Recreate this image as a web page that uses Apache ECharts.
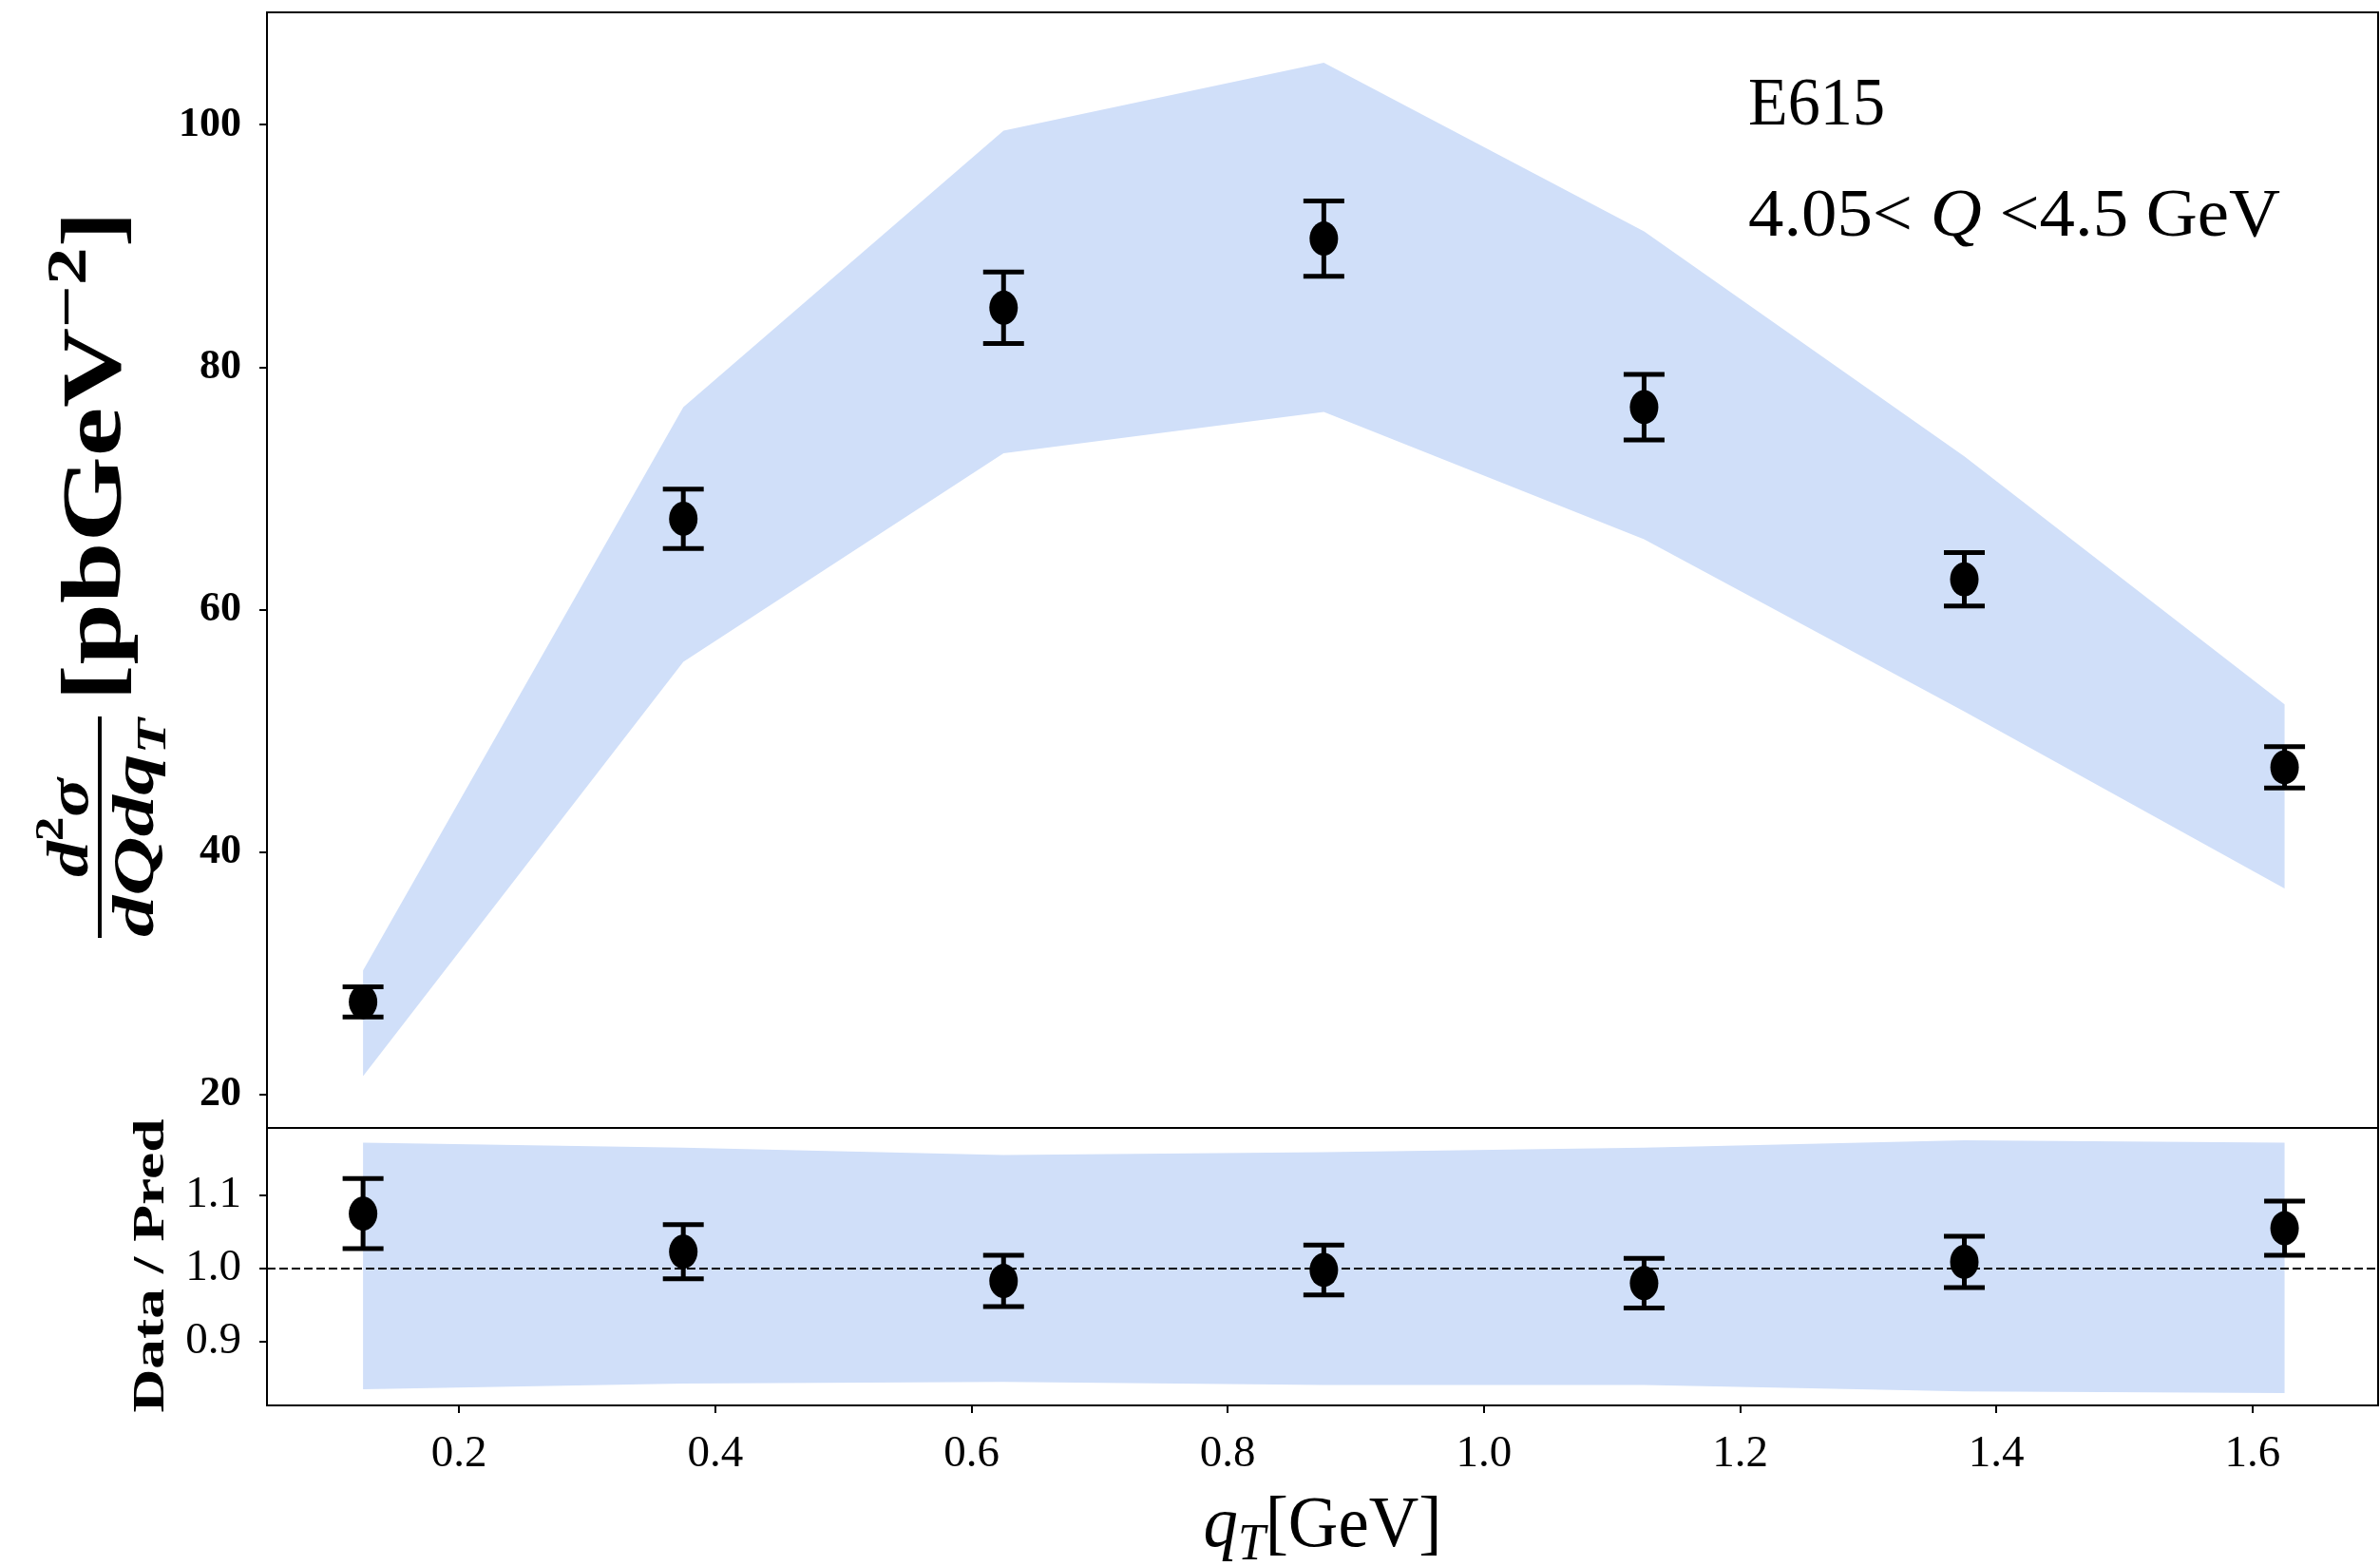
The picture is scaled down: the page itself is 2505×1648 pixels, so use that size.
<!DOCTYPE html>
<html>
<head>
<meta charset="utf-8">
<script src="https://cdn.jsdelivr.net/npm/echarts@6/dist/echarts.min.js"></script>
<style>
  html, body { margin: 0; padding: 0; background: #fff; }
  #chart { width: 2505px; height: 1648px; }
</style>
</head>
<body>
<div id="chart"></div>
<script>
// E615 Drell-Yan qT spectrum, 4.05 < Q < 4.5 GeV
const qT        = [0.125, 0.375, 0.625, 0.875, 1.125, 1.375, 1.625];
const xsec      = [27.65, 67.5, 84.9, 90.6, 76.7, 62.5, 47.0];
const xsecErr   = [1.25, 2.45, 2.95, 3.1, 2.7, 2.2, 1.7];
const predUpper = [30.25, 76.7, 99.5, 105.1, 91.2, 72.65, 52.2];
const predLower = [21.53, 55.7, 72.9, 76.3, 65.8, 51.6, 37.0];

// data / prediction
const ratio      = [1.075, 1.023, 0.983, 0.998, 0.980, 1.009, 1.055];
const ratioErr   = [0.048, 0.037, 0.035, 0.034, 0.034, 0.035, 0.037];
const ratioUpper = [1.172, 1.165, 1.155, 1.159, 1.165, 1.175, 1.172];
const ratioLower = [0.835, 0.843, 0.845, 0.841, 0.841, 0.832, 0.830];

// tick positions
const xTicks      = [0.2, 0.4, 0.6, 0.8, 1.0, 1.2, 1.4, 1.6];
const yTicksTop   = [20, 40, 60, 80, 100];
const yTicksRatio = [0.9, 1.0, 1.1];

const BAND = 'rgb(208,223,249)';
const SERIF = 'Liberation Serif';
const X_MIN = 0.05, X_MAX = 1.698;

// ---- text layout helpers (runs of differently styled text on a common baseline)
const meas = document.createElement('canvas').getContext('2d');
function cssFont(r) {
  return [r.italic ? 'italic' : 'normal', r.bold ? 'bold' : 'normal', r.size + 'px', SERIF].join(' ');
}
function textRun(runs, opts) {
  let x = 0;
  const kids = [];
  runs.forEach(r => {
    meas.font = cssFont(r);
    meas.textBaseline = 'middle';
    const w = meas.measureText(r.text).width;
    const off = meas.measureText('H').actualBoundingBoxDescent;
    kids.push({
      type: 'text', x: x, y: -(r.rise || 0) - off, silent: true,
      style: {
        text: r.text, fill: '#000',
        fontSize: r.size, fontFamily: SERIF,
        fontWeight: r.bold ? 'bold' : 'normal',
        fontStyle: r.italic ? 'italic' : 'normal',
        align: 'left', verticalAlign: 'middle',
        textAlign: 'left', textVerticalAlign: 'middle'
      }
    });
    x += w;
  });
  const s = opts.width ? opts.width / x : 1;
  const gx = opts.align === 'center' ? opts.x - x * s / 2 : opts.x;
  return { type: 'group', x: gx, y: opts.y, scaleX: s, children: kids };
}

// ---- series renderers
function bandRenderer(xs, lo, hi) {
  return function (params, api) {
    if (params.dataIndex !== 0) return null;
    const pts = [];
    for (let i = 0; i < xs.length; i++) pts.push(api.coord([xs[i], hi[i]]));
    for (let i = xs.length - 1; i >= 0; i--) pts.push(api.coord([xs[i], lo[i]]));
    return { type: 'polygon', shape: { points: pts }, style: { fill: BAND }, silent: true };
  };
}
function errorRenderer(params, api) {
  const x = api.value(0), y = api.value(1), e = api.value(2);
  const c = api.coord([x, y]);
  const top = api.coord([x, y + e]);
  const bot = api.coord([x, y - e]);
  const cap = 21.5;
  const ls = { stroke: '#000', lineWidth: 5 };
  return {
    type: 'group',
    children: [
      { type: 'line', shape: { x1: c[0], y1: top[1], x2: c[0], y2: bot[1] }, style: ls },
      { type: 'line', shape: { x1: c[0] - cap, y1: top[1], x2: c[0] + cap, y2: top[1] }, style: ls },
      { type: 'line', shape: { x1: c[0] - cap, y1: bot[1], x2: c[0] + cap, y2: bot[1] }, style: ls },
      { type: 'circle', x: c[0], y: c[1], scaleY: 1.2, shape: { cx: 0, cy: 0, r: 15 }, style: { fill: '#000' } }
    ]
  };
}

const tickLabel = { fontFamily: SERIF, color: '#000', fontSize: 47 };

const option = {
  animation: false,
  backgroundColor: '#fff',
  grid: [
    { left: 281, top: 13, width: 2222, height: 1174, show: true, borderColor: '#000', borderWidth: 2, backgroundColor: 'transparent' },
    { left: 281, top: 1187, width: 2222, height: 292, show: true, borderColor: '#000', borderWidth: 2, backgroundColor: 'transparent' }
  ],
  xAxis: [
    {
      type: 'value', gridIndex: 0, min: X_MIN, max: X_MAX,
      axisLine: { show: false, onZero: false }, axisTick: { show: false },
      axisLabel: { show: false }, splitLine: { show: false }
    },
    {
      type: 'value', gridIndex: 1, min: X_MIN, max: X_MAX,
      axisLine: { show: false, onZero: false },
      axisTick: { show: true, inside: false, length: 8, lineStyle: { color: '#000', width: 2 }, customValues: xTicks },
      axisLabel: Object.assign({ show: true, customValues: xTicks, margin: 28, formatter: v => v.toFixed(1) }, tickLabel),
      splitLine: { show: false }
    }
  ],
  yAxis: [
    {
      type: 'value', gridIndex: 0, min: 17.26, max: 109.26,
      axisLine: { show: false, onZero: false },
      axisTick: { show: true, inside: false, length: 8, lineStyle: { color: '#000', width: 2 }, customValues: yTicksTop },
      axisLabel: Object.assign({}, tickLabel, { show: true, customValues: yTicksTop, margin: 27, fontSize: 44, fontWeight: 'bold', formatter: v => String(Math.round(v)) }),
      splitLine: { show: false }
    },
    {
      type: 'value', gridIndex: 1, min: 0.813, max: 1.192,
      axisLine: { show: false, onZero: false },
      axisTick: { show: true, inside: false, length: 8, lineStyle: { color: '#000', width: 2 }, customValues: yTicksRatio },
      axisLabel: Object.assign({ show: true, customValues: yTicksRatio, margin: 27, formatter: v => v.toFixed(1) }, tickLabel),
      splitLine: { show: false }
    }
  ],
  series: [
    {
      type: 'custom', name: 'prediction', xAxisIndex: 0, yAxisIndex: 0, z: 1,
      data: qT.map((x, i) => [x, predLower[i], predUpper[i]]),
      renderItem: bandRenderer(qT, predLower, predUpper)
    },
    {
      type: 'custom', name: 'E615', xAxisIndex: 0, yAxisIndex: 0, z: 3,
      data: qT.map((x, i) => [x, xsec[i], xsecErr[i]]),
      renderItem: errorRenderer
    },
    {
      type: 'custom', name: 'ratio band', xAxisIndex: 1, yAxisIndex: 1, z: 1,
      data: qT.map((x, i) => [x, ratioLower[i], ratioUpper[i]]),
      renderItem: bandRenderer(qT, ratioLower, ratioUpper)
    },
    {
      type: 'line', name: 'unity', xAxisIndex: 1, yAxisIndex: 1, z: 2,
      data: [[X_MIN, 1.0], [X_MAX, 1.0]], symbol: 'none', silent: true,
      lineStyle: { color: '#000', width: 2, type: [9, 4] }
    },
    {
      type: 'custom', name: 'data / pred', xAxisIndex: 1, yAxisIndex: 1, z: 3,
      data: qT.map((x, i) => [x, ratio[i], ratioErr[i]]),
      renderItem: errorRenderer
    }
  ],
  graphic: [
    // y title of the upper panel: d²σ/(dQ dqT) [pb GeV^-2]
    {
      type: 'group', x: 105, y: 987, rotation: Math.PI / 2, silent: true,
      children: [
        { type: 'line', shape: { x1: 0, y1: 0, x2: 233, y2: 0 }, style: { stroke: '#000', lineWidth: 4 } },
        textRun([
          { text: 'd', italic: true, bold: true, size: 62 },
          { text: '2', bold: true, size: 42, rise: 26 },
          { text: 'σ', italic: true, bold: true, size: 62 }
        ], { x: 116, y: -13, width: 104, align: 'center' }),
        textRun([
          { text: 'dQdq', italic: true, bold: true, size: 62 },
          { text: 'T', italic: true, bold: true, size: 44, rise: -13 }
        ], { x: 116, y: 56, width: 230, align: 'center' }),
        textRun([
          { text: '[pbGeV', bold: true, size: 88 },
          { text: '−2', bold: true, size: 60, rise: 37 },
          { text: ']', bold: true, size: 88 }
        ], { x: 249, y: 22, width: 516 })
      ]
    },
    // y title of the ratio panel
    {
      type: 'group', x: 172, y: 1332, rotation: Math.PI / 2, silent: true,
      children: [textRun([{ text: 'Data / Pred', bold: true, size: 47 }], { x: 0, y: 0, width: 309, align: 'center' })]
    },
    // x title
    textRun([
      { text: 'q', italic: true, size: 76 },
      { text: 'T', italic: true, size: 54, rise: -14 },
      { text: '[GeV]', size: 76 }
    ], { x: 1392, y: 1627, width: 251, align: 'center' }),
    // panel annotation
    textRun([{ text: 'E615', size: 72 }], { x: 1840, y: 131, width: 144 }),
    textRun([
      { text: '4.05< ', size: 72 },
      { text: 'Q', italic: true, size: 72 },
      { text: ' <4.5 GeV', size: 72 }
    ], { x: 1840, y: 248, width: 560 })
  ]
};

const chart = echarts.init(document.getElementById('chart'), null, { renderer: 'canvas', width: 2505, height: 1648 });
chart.setOption(option);
</script>
</body>
</html>
